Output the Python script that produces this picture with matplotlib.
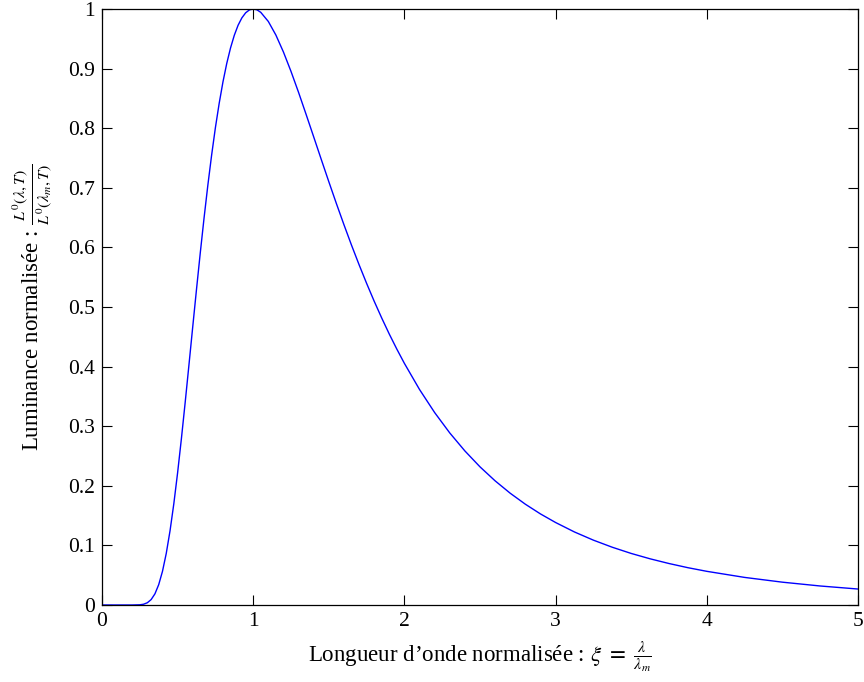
import matplotlib
matplotlib.use('Agg')
import matplotlib.pyplot as plt

plt.rcParams['font.family'] = ['Liberation Serif', 'DejaVu Serif']
plt.rcParams['mathtext.fontset'] = 'stix'

# valeurs (luminance normalisée en fonction de xi)
xi = [0.0, 0.1, 0.2, 0.25, 0.275, 0.3, 0.325, 0.35, 0.375, 0.4, 0.425, 0.45,
      0.475, 0.5, 0.525, 0.55, 0.575, 0.6, 0.625, 0.65, 0.675, 0.7, 0.725,
      0.75, 0.775, 0.8, 0.825, 0.85, 0.875, 0.9, 0.925, 0.95, 0.975, 1.0,
      1.025, 1.05, 1.1, 1.15, 1.2, 1.25, 1.3, 1.35, 1.4, 1.45, 1.5, 1.55,
      1.6, 1.65, 1.7, 1.75, 1.8, 1.85, 1.9, 1.95, 2.0, 2.1, 2.2, 2.3, 2.4,
      2.5, 2.6, 2.7, 2.8, 2.9, 3.0, 3.125, 3.25, 3.375, 3.5, 3.625, 3.75,
      3.875, 4.0, 4.25, 4.5, 4.75, 5.0]
lum = [0.0, 0.0, 0.00001, 0.00035, 0.0013, 0.0038, 0.0091, 0.0187, 0.0341,
       0.0565, 0.0866, 0.1246, 0.1699, 0.2218, 0.2788, 0.3396, 0.4027,
       0.4665, 0.5296, 0.5909, 0.6494, 0.7043, 0.7548, 0.8009, 0.8417,
       0.8777, 0.9086, 0.9346, 0.9559, 0.9727, 0.9851, 0.9936, 0.9985, 1.0,
       0.9986, 0.9944, 0.9791, 0.9563, 0.9278, 0.8953, 0.8601, 0.8231,
       0.7855, 0.7477, 0.7103, 0.6737, 0.6382, 0.6039, 0.5711, 0.5397,
       0.5098, 0.4815, 0.4546, 0.4293, 0.4054, 0.3616, 0.3229, 0.2887,
       0.2585, 0.2318, 0.2083, 0.1875, 0.1691, 0.1528, 0.1384, 0.1225,
       0.1088, 0.0969, 0.0865, 0.0775, 0.0696, 0.0626, 0.0565, 0.0463,
       0.0383, 0.0319, 0.0268]

xticks = [0, 1, 2, 3, 4, 5]
yticks = [0, 0.1, 0.2, 0.3, 0.4, 0.5, 0.6, 0.7, 0.8, 0.9, 1]
yticklabels = ['0', '0.1', '0.2', '0.3', '0.4', '0.5', '0.6', '0.7', '0.8', '0.9', '1']

fig = plt.figure(figsize=(8.64, 6.82), dpi=100)
ax = fig.add_axes([102 / 864, 1 - 605 / 682, 756 / 864, 596 / 682])

ax.plot(xi, lum, color='blue', linewidth=1.0)

ax.set_xlim(0, 5)
ax.set_ylim(0, 1)
ax.set_xticks(xticks)
ax.set_xticklabels([str(t) for t in xticks])
ax.set_yticks(yticks)
ax.set_yticklabels(yticklabels)
ax.tick_params(direction='in', top=True, right=True, length=7, width=0.8,
               labelsize=15.5, pad=5)
for s in ax.spines.values():
    s.set_linewidth(0.9)

ax.set_xlabel('Longueur d’onde normalisée : $\\xi\\ =\\ \\frac{\\lambda}{\\lambda_m}$',
              fontsize=16.5, labelpad=6)
ax.set_ylabel('Luminance normalisée : $\\frac{L^0(\\lambda,T)}{L^0(\\lambda_m,T)}$',
              fontsize=16.5, labelpad=10)

fig.savefig('out.png', dpi=100)
